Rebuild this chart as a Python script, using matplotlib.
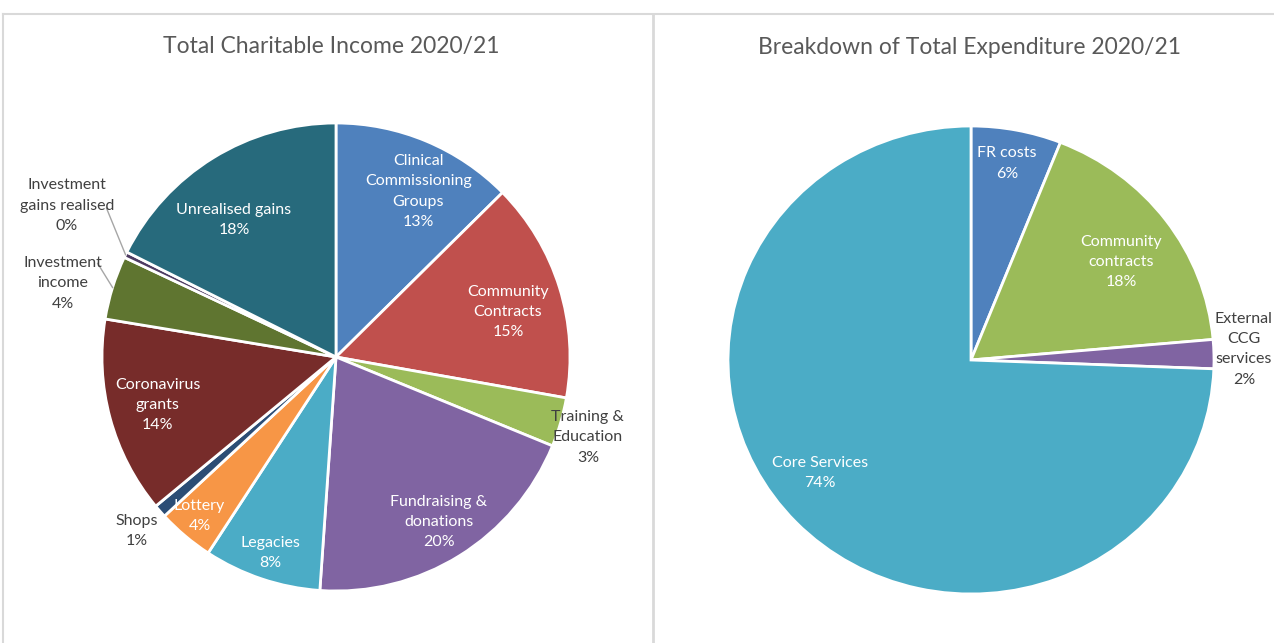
import matplotlib.pyplot as plt
from matplotlib.lines import Line2D
import numpy as np

plt.rcParams['font.family'] = ['Lato', 'DejaVu Sans']

# income pie (values in %)
income_names = ['Clinical\nCommissioning\nGroups', 'Community\nContracts', 'Training &\nEducation',
                'Fundraising &\ndonations', 'Legacies', 'Lottery', 'Shops', 'Coronavirus\ngrants',
                'Investment\nincome', 'Investment\ngains realised', 'Unrealised gains']
income_vals = [12.6, 15.2, 3.4, 19.9, 8.1, 3.9, 0.9, 13.6, 4.4, 0.4, 17.6]
income_colors = ['#4F81BD', '#C0504D', '#9BBB59', '#8064A2', '#4BACC6', '#F79646',
                 '#2C4D75', '#772C2A', '#5F7530', '#4D3B62', '#276A7C']

# expenditure pie (values in %)
exp_names = ['FR costs', 'Community\ncontracts', 'External\nCCG\nservices', 'Core Services']
exp_vals = [6.0, 17.6, 2.0, 74.4]
exp_colors = ['#4F81BD', '#9BBB59', '#8064A2', '#4BACC6']

# label placement: radius (fraction of pie radius) and angle nudge (deg)
income_r = [0.79, 0.76, 1.13, 0.83, 0.885, 0.895, 1.13, 0.79, 1.21, 1.32, 0.73]
income_nudge = [-3.7, -2.6, -1.5, 0, 0, -0.5, 0, 0, 2.2, -3.4, 5.0]
income_inside = [True, True, False, True, True, True, False, True, False, False, True]
# leader line start relative to label centre (None = no leader)
income_leader = [None] * 8 + [(0.15, 0.085), (0.17, -0.01), None]
exp_r = [0.853, 0.746, 1.124, 0.788]
exp_nudge = [0.8, -2.5, 0.9, -6.0]
exp_inside = [True, True, False, True]

W, H = 1274, 643
fig = plt.figure(figsize=(W / 100, H / 100), dpi=100)


def draw_pie(box, vals, names, colors, radii, nudges, inside, leaders=None):
    ax = fig.add_axes(box)
    wedges, _ = ax.pie(vals, colors=colors, startangle=90, counterclock=False,
                       radius=1, wedgeprops=dict(edgecolor='white', linewidth=2))
    ax.set_xlim(-1, 1)
    ax.set_ylim(-1, 1)
    ax.set_aspect('auto')
    ax.axis('off')
    for i, w in enumerate(wedges):
        mid = np.deg2rad((w.theta1 + w.theta2) / 2)
        ang = mid + np.deg2rad(nudges[i])
        r = radii[i]
        x, y = r * np.cos(ang), r * np.sin(ang)
        txt = f"{names[i]}\n{vals[i]:.0f}%"
        col = 'white' if inside[i] else '#404040'
        ax.text(x, y, txt, ha='center', va='center', fontsize=11.5, color=col,
                linespacing=1.57)
        if leaders is not None and leaders[i] is not None:
            ex, ey = np.cos(mid), np.sin(mid)
            lx, ly = x + leaders[i][0], y + leaders[i][1]
            ax.plot([lx, ex], [ly, ey], color='#a6a6a6', lw=1, clip_on=False)
    return ax


# left pie: center (336,357) px, radius 234 px
draw_pie([102 / W, 1 - 591 / H, 468 / W, 468 / H], income_vals, income_names,
         income_colors, income_r, income_nudge, income_inside, income_leader)
# right pie: center (971,360) px, radii 243 x 234 px
draw_pie([728 / W, 1 - 594 / H, 486 / W, 468 / H], exp_vals, exp_names,
         exp_colors, exp_r, exp_nudge, exp_inside)

fig.text(331 / W, 1 - 47 / H, 'Total Charitable Income 2020/21', ha='center', va='center',
         fontsize=16.5, color='#595959')
fig.text(969 / W, 1 - 48 / H, 'Breakdown of Total Expenditure 2020/21', ha='center', va='center',
         fontsize=16.5, color='#595959')

# chart borders
border = '#d9d9d9'
fig.add_artist(Line2D([3 / W, 1], [1 - 14 / H, 1 - 14 / H], transform=fig.transFigure, color=border, lw=1.5))
fig.add_artist(Line2D([3 / W, 3 / W], [0, 1 - 14 / H], transform=fig.transFigure, color=border, lw=1.5))
fig.add_artist(Line2D([653 / W, 653 / W], [0, 1 - 14 / H], transform=fig.transFigure, color=border, lw=2))

fig.savefig('out.png', dpi=100)
